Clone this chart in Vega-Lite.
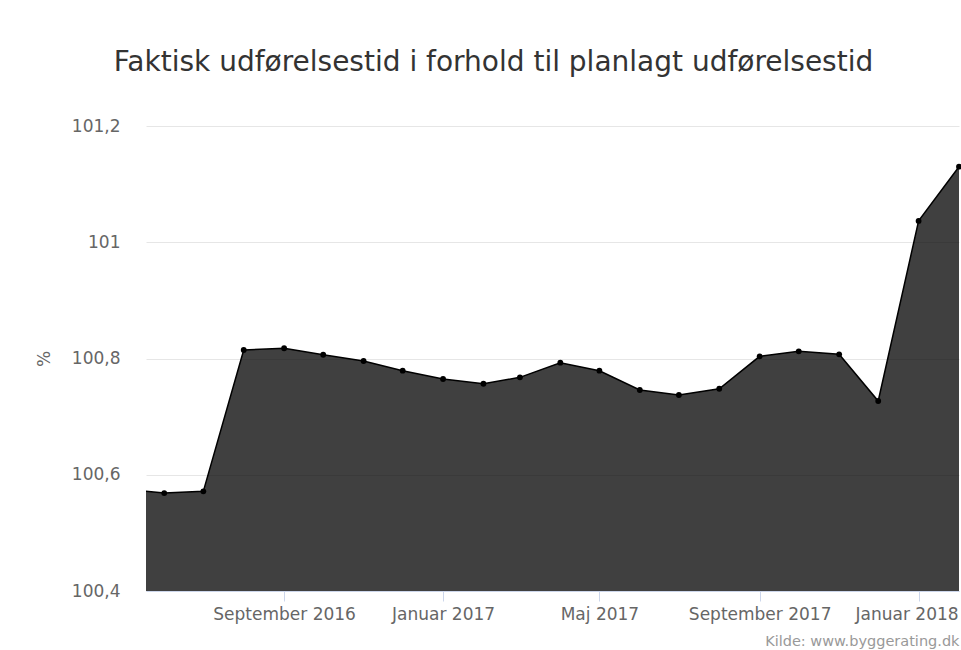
{
  "$schema": "https://vega.github.io/schema/vega-lite/v6.json",
  "autosize": "none",
  "width": 813,
  "height": 465,
  "padding": {"left": 146, "top": 126, "right": 2, "bottom": 59},
  "background": "white",
  "title": {
    "text": "Faktisk udførelsestid i forhold til planlagt udførelsestid",
    "anchor": "middle",
    "frame": "group",
    "dx": -59,
    "offset": 40,
    "font": "DejaVu Sans",
    "fontSize": 28,
    "fontWeight": "normal",
    "color": "#333333"
  },
  "config": {
    "view": {"stroke": null},
    "font": "DejaVu Sans"
  },
  "data": {
    "values": [
      {"date": "2016-05-01", "value": 100.575},
      {"date": "2016-06-01", "value": 100.5685},
      {"date": "2016-07-01", "value": 100.5714},
      {"date": "2016-08-01", "value": 100.8146},
      {"date": "2016-09-01", "value": 100.8176},
      {"date": "2016-10-01", "value": 100.8065},
      {"date": "2016-11-01", "value": 100.7957},
      {"date": "2016-12-01", "value": 100.779},
      {"date": "2017-01-01", "value": 100.7647},
      {"date": "2017-02-01", "value": 100.7566},
      {"date": "2017-03-01", "value": 100.7676},
      {"date": "2017-04-01", "value": 100.7928},
      {"date": "2017-05-01", "value": 100.779},
      {"date": "2017-06-01", "value": 100.7458},
      {"date": "2017-07-01", "value": 100.7372},
      {"date": "2017-08-01", "value": 100.748},
      {"date": "2017-09-01", "value": 100.8038},
      {"date": "2017-10-01", "value": 100.8124},
      {"date": "2017-11-01", "value": 100.8072},
      {"date": "2017-12-01", "value": 100.7269},
      {"date": "2018-01-01", "value": 101.0367},
      {"date": "2018-02-01", "value": 101.1301}
    ]
  },
  "encoding": {
    "x": {
      "field": "date",
      "type": "temporal",
      "scale": {
        "type": "utc",
        "domain": [
          {"year": 2016, "month": 5, "date": 18, "utc": true},
          {"year": 2018, "month": 2, "date": 1, "utc": true}
        ]
      },
      "axis": {
        "values": [
          {"year": 2016, "month": 9, "date": 1, "utc": true},
          {"year": 2017, "month": 1, "date": 1, "utc": true},
          {"year": 2017, "month": 5, "date": 1, "utc": true},
          {"year": 2017, "month": 9, "date": 1, "utc": true},
          {"year": 2018, "month": 1, "date": 1, "utc": true}
        ],
        "labelExpr": "['Januar','Februar','Marts','April','Maj','Juni','Juli','August','September','Oktober','November','December'][utcmonth(datum.value)] + ' ' + utcyear(datum.value)",
        "labelOffset": {"condition": {"test": "utcyear(datum.value) == 2018", "value": -12}, "value": 0},
        "labelBound": false,
        "grid": false,
        "domainColor": "#ccd6eb",
        "domainWidth": 1,
        "tickColor": "#ccd6eb",
        "tickSize": 10,
        "labelPadding": 5,
        "labelFontSize": 17,
        "labelColor": "#666666",
        "labelFont": "DejaVu Sans",
        "title": "Kilde: www.byggerating.dk",
        "titleAnchor": "end",
        "titleAlign": "right",
        "titleColor": "#999999",
        "titleFontSize": 14.5,
        "titleFontWeight": "normal",
        "titlePadding": 12
      }
    },
    "y": {
      "field": "value",
      "type": "quantitative",
      "scale": {"domain": [100.4, 101.2], "zero": false, "nice": false},
      "axis": {
        "values": [100.4, 100.6, 100.8, 101, 101.2],
        "labelExpr": "replace(format(datum.value, '.1~f'), '.', ',')",
        "grid": true,
        "gridColor": "#e6e6e6",
        "gridWidth": 1,
        "domain": false,
        "ticks": false,
        "labelPadding": 26,
        "labelFontSize": 17,
        "labelColor": "#666666",
        "labelFont": "DejaVu Sans",
        "title": "%",
        "titleColor": "#666666",
        "titleFontSize": 17,
        "titleFontWeight": "normal",
        "titlePadding": 18
      }
    }
  },
  "layer": [
    {
      "mark": {"type": "area", "color": "#000000", "fillOpacity": 0.75, "clip": true},
      "encoding": {"y2": {"datum": 100.4}}
    },
    {
      "mark": {"type": "line", "color": "#000000", "strokeWidth": 1.5, "clip": true},
      "encoding": {}
    },
    {
      "transform": [{"filter": "time(datum.date) > utc(2016,4,20)"}],
      "mark": {"type": "point", "filled": true, "color": "#000000", "opacity": 1, "size": 34},
      "encoding": {}
    }
  ]
}
